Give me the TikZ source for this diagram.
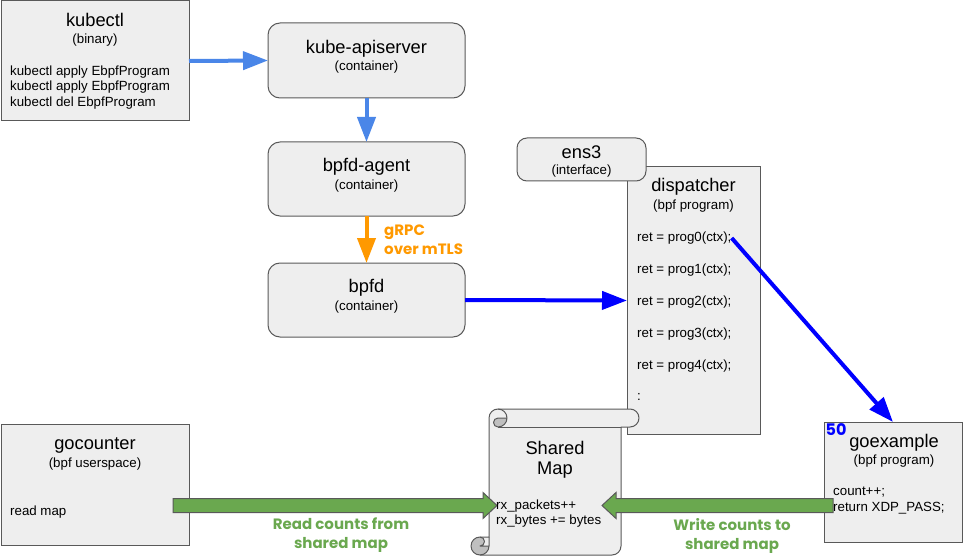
\documentclass[tikz,border=0pt]{standalone}
\usepackage{fontspec}
\setmainfont{Liberation Sans}
\newfontfamily\lblfont{Poppins}
\usetikzlibrary{arrows.meta,calc}
\definecolor{boxfill}{HTML}{EEEEEE}
\definecolor{boxline}{HTML}{595959}
\definecolor{lblue}{HTML}{4A86E8}
\definecolor{pblue}{HTML}{0000FF}
\definecolor{orng}{HTML}{FF9900}
\definecolor{grn}{HTML}{6AA84F}
\definecolor{curl}{HTML}{BFBFBF}
\begin{document}
\begin{tikzpicture}[x=1pt,y=-1pt,
  sqbox/.style={draw=boxline, fill=boxfill, line width=1pt, inner sep=0pt, outer sep=0pt},
  rndbox/.style={sqbox, rounded corners=12pt},
  ttl/.style={font=\fontsize{18.3}{22}\selectfont, inner sep=0pt},
  sub/.style={font=\fontsize{13.3}{15.5}\selectfont, inner sep=0pt},
  code/.style={font=\fontsize{13.3}{15.5}\selectfont, inner sep=0pt, align=left, anchor=west},
  lbl/.style={font=\lblfont\bfseries\fontsize{15}{19}\selectfont, inner sep=0pt},
  conn/.style={line width=4pt, -{Triangle[length=25pt,width=18pt]}},
  fat/.style={draw=boxline, fill=grn, line width=1pt, line join=miter},
  scrl/.style={draw=boxline, line width=1pt, line join=round},
]
\useasboundingbox (0,0) rectangle (963,556);

% boxes
\node[sqbox, minimum width=188pt, minimum height=120pt] (kubectl) at (95,61) {};
\node[rndbox, minimum width=197pt, minimum height=75pt] (apiserver) at (366.5,60.5) {};
\node[rndbox, minimum width=197pt, minimum height=74pt] (agent) at (366.5,179) {};
\node[rndbox, minimum width=197pt, minimum height=74pt] (bpfd) at (366.5,300) {};
\node[sqbox, minimum width=133pt, minimum height=267pt] (dispatcher) at (693.5,300.5) {};
\node[rndbox, rounded corners=10pt, minimum width=129pt, minimum height=43pt] (ens3) at (581.5,159.5) {};
\node[sqbox, minimum width=138pt, minimum height=120pt] (goexample) at (893,482) {};
\node[sqbox, minimum width=188pt, minimum height=121pt] (gocounter) at (95,484.5) {};

% shared map scroll
\path[fill=boxfill] (489,537) -- (489,418) arc[start angle=180, delta angle=90, radius=9] -- (630,409) arc[start angle=270, delta angle=180, radius=9] -- (621,427) -- (621,546) arc[start angle=0, delta angle=90, radius=9] -- (480,555) arc[start angle=90, delta angle=180, radius=9] -- cycle;
\path[fill=curl] (507,418) arc[start angle=0, delta angle=90, radius=9] arc[start angle=90, delta angle=180, radius=4.5] -- cycle;
\path[fill=curl] (489,546) arc[start angle=0, delta angle=270, radius=9] arc[start angle=270, delta angle=180, radius=4.5] -- cycle;
\draw[scrl] (489,537) -- (489,418) arc[start angle=180, delta angle=90, radius=9] -- (630,409) arc[start angle=270, delta angle=180, radius=9] -- (621,427) -- (621,546) arc[start angle=0, delta angle=90, radius=9] -- (480,555) arc[start angle=90, delta angle=180, radius=9] -- cycle;
\draw[scrl] (498,409) arc[start angle=270, delta angle=180, radius=9] arc[start angle=90, delta angle=180, radius=4.5] -- (507,418);
\draw[scrl] (621,427) -- (498,427);
\draw[scrl] (480,537) arc[start angle=270, delta angle=180, radius=4.5] -- (489,546);
\draw[scrl] (480,555) arc[start angle=90, delta angle=-90, radius=9] -- (489,537);
\coordinate (shmap) at (555,482);

% texts
\node[ttl] (kubectlT) at (95,20) {kubectl};
\node[sub] (kubectlS) at (95,40) {(binary)};
\node[code] (kubectlC) at (10,87.5) {kubectl apply EbpfProgram\\kubectl apply EbpfProgram\\kubectl del EbpfProgram};

\node[ttl] (apiT) at (366.5,49) {kube-apiserver};
\node[sub] (apiS) at (366.5,67) {(container)};
\node[ttl] (agentT) at (366.5,167) {bpfd-agent};
\node[sub] (agentS) at (366.5,186) {(container)};
\node[ttl] (bpfdT) at (366.5,288) {bpfd};
\node[sub] (bpfdS) at (366.5,307) {(container)};

\node[ttl] (ens3T) at (581.5,152) {ens3};
\node[sub] (ens3S) at (581.5,171) {(interface)};

\node[ttl] (dispT) at (693.5,187) {dispatcher};
\node[sub] (dispS) at (693.5,206) {(bpf program)};
\node[code] (prog0) at (637,238) {ret = prog0(ctx);};
\node[code] (prog1) at (637,270) {ret = prog1(ctx);};
\node[code] (prog2) at (637,302) {ret = prog2(ctx);};
\node[code] (prog3) at (637,334) {ret = prog3(ctx);};
\node[code] (prog4) at (637,366) {ret = prog4(ctx);};
\node[code] (progdots) at (637,397) {:};

\node[ttl] (goexT) at (894,443) {goexample};
\node[sub] (goexS) at (894,461) {(bpf program)};
\node[font=\lblfont\bfseries\fontsize{16}{18}\selectfont, text=pblue, inner sep=0pt, anchor=base west] (prio) at (825.5,435.5) {50};

\node[ttl] (gocT) at (95,445) {gocounter};
\node[sub] (gocS) at (95,464) {(bpf userspace)};
\node[code] (gocC) at (10,512) {read map};

\node[ttl] (smT1) at (555,448) {Shared};
\node[ttl] (smT2) at (555,470) {Map};

% connectors
\draw[conn, lblue] (kubectl.east) -- (apiserver.west);
\draw[conn, lblue] (apiserver.south) -- (agent.north);
\draw[conn, orng] (agent.south) -- (bpfd.north);
\draw[conn, pblue] (bpfd.east) -- (dispatcher.west);
\draw[conn, pblue] (prog0.east) -- (goexample.north);

\node[lbl, text=orng, align=left, anchor=west] (grpc) at (384,239.5) {gRPC\\over mTLS};

% fat green arrows
\coordinate (rdA) at (173,505.5);
\coordinate (rdB) at (497,505.5);
\draw[fat] ($(rdA)+(0,-7)$) -- ($(rdB)+(-14,-7)$) -- ($(rdB)+(-14,-13)$) -- (rdB) -- ($(rdB)+(-14,13)$) -- ($(rdB)+(-14,7)$) -- ($(rdA)+(0,7)$) -- cycle;
\coordinate (wrA) at (833,505.5);
\coordinate (wrB) at (602,505.5);
\draw[fat] ($(wrA)+(0,-7)$) -- ($(wrB)+(14,-7)$) -- ($(wrB)+(14,-13)$) -- (wrB) -- ($(wrB)+(14,13)$) -- ($(wrB)+(14,7)$) -- ($(wrA)+(0,7)$) -- cycle;

\node[code] (smC) at (496,513.5) {rx\_packets++\\rx\_bytes += bytes};
\node[code] (goexC) at (833,500.5) {count++;\\return XDP\_PASS;};

\node[lbl, text=grn, align=center] (rdL) at (341,535.5) {Read counts from\\shared map};
\node[lbl, text=grn, align=center] (wrL) at (732,535.5) {Write counts to\\shared map};
\end{tikzpicture}
\end{document}
